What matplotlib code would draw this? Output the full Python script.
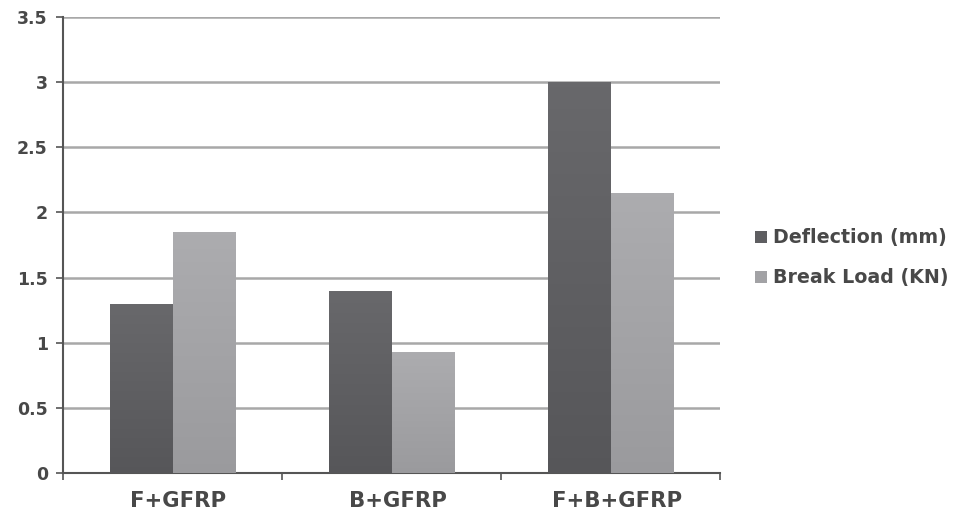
import matplotlib
matplotlib.use("Agg")
import matplotlib.pyplot as plt
import matplotlib.transforms as mtransforms
import numpy as np

categories = ["F+GFRP", "B+GFRP", "F+B+GFRP"]
deflection = [1.3, 1.4, 3.0]
break_load = [1.85, 0.93, 2.15]
series_names = ["Deflection (mm)", "Break Load (KN)"]
y_ticks = [0, 0.5, 1, 1.5, 2, 2.5, 3, 3.5]

plt.rcParams['font.family'] = ['DejaVu Sans']

fig = plt.figure(figsize=(9.55, 5.19), dpi=100)
ax = fig.add_axes([0.066, 0.089, 0.688, 0.878])

x = np.arange(len(categories))
w = 0.285
dark = "#5e5e61"
light = "#a2a2a5"
text_c = "#484848"
b1 = ax.bar(x - w / 2, deflection, w, color=dark, label=series_names[0], zorder=3)
b2 = ax.bar(x + w / 2, break_load, w, color=light, label=series_names[1], zorder=3)

# subtle vertical gradient on each bar
grad = np.linspace(0, 1, 256).reshape(-1, 1)
for bars, base in ((b1, dark), (b2, light)):
    c = np.array(matplotlib.colors.to_rgb(base))
    for r in bars:
        x0, y0 = r.get_x(), r.get_y()
        bw, bh = r.get_width(), r.get_height()
        top = np.clip(c + 0.04, 0, 1)
        bot = np.clip(c - 0.03, 0, 1)
        img = bot[None, None, :] * (1 - grad[:, :, None]) + top[None, None, :] * grad[:, :, None]
        im = ax.imshow(img, extent=[x0, x0 + bw, y0, y0 + bh], origin="lower",
                       aspect="auto", zorder=4)
        im.set_clip_path(r)

ax.set_xlim(-0.5, 2.5)
ax.set_ylim(0, 3.5)
ax.set_yticks(y_ticks)
ax.set_yticklabels(["0", "0.5", "1", "1.5", "2", "2.5", "3", "3.5"], fontweight="bold")
ax.yaxis.grid(True, color="#a8a8a8", linewidth=1.8, zorder=0)
ax.set_axisbelow(True)

ax.set_xticks(x)
ax.set_xticklabels(categories, fontweight="bold")
ax.set_xticks([-0.5, 0.5, 1.5, 2.5], minor=True)
ax.tick_params(axis="x", which="major", length=0, pad=13, labelsize=15.3, colors=text_c)
ax.tick_params(axis="x", which="minor", length=5, width=1.2, color="#555555", direction="out")
ax.tick_params(axis="y", length=5, width=1.2, color="#555555", labelsize=12.5,
               labelcolor=text_c, pad=6)

# category labels sit slightly right of the group centres
shift = mtransforms.ScaledTranslation(6 / 100, 0, fig.dpi_scale_trans)
for lbl in ax.get_xticklabels():
    lbl.set_transform(lbl.get_transform() + shift)

for s in ("top", "right"):
    ax.spines[s].set_visible(False)
for s in ("left", "bottom"):
    ax.spines[s].set_color("#555555")
    ax.spines[s].set_linewidth(1.5)

fig.legend(handles=[b1, b2], labels=series_names, loc="center left",
           bbox_to_anchor=(0.791, 0.503), bbox_transform=fig.transFigure,
           frameon=False, borderpad=0, borderaxespad=0,
           prop={"size": 13.7, "weight": "bold"},
           handlelength=0.6, handleheight=0.6, handletextpad=0.35, labelspacing=1.1,
           labelcolor=text_c)

fig.savefig("out.png", dpi=100)
